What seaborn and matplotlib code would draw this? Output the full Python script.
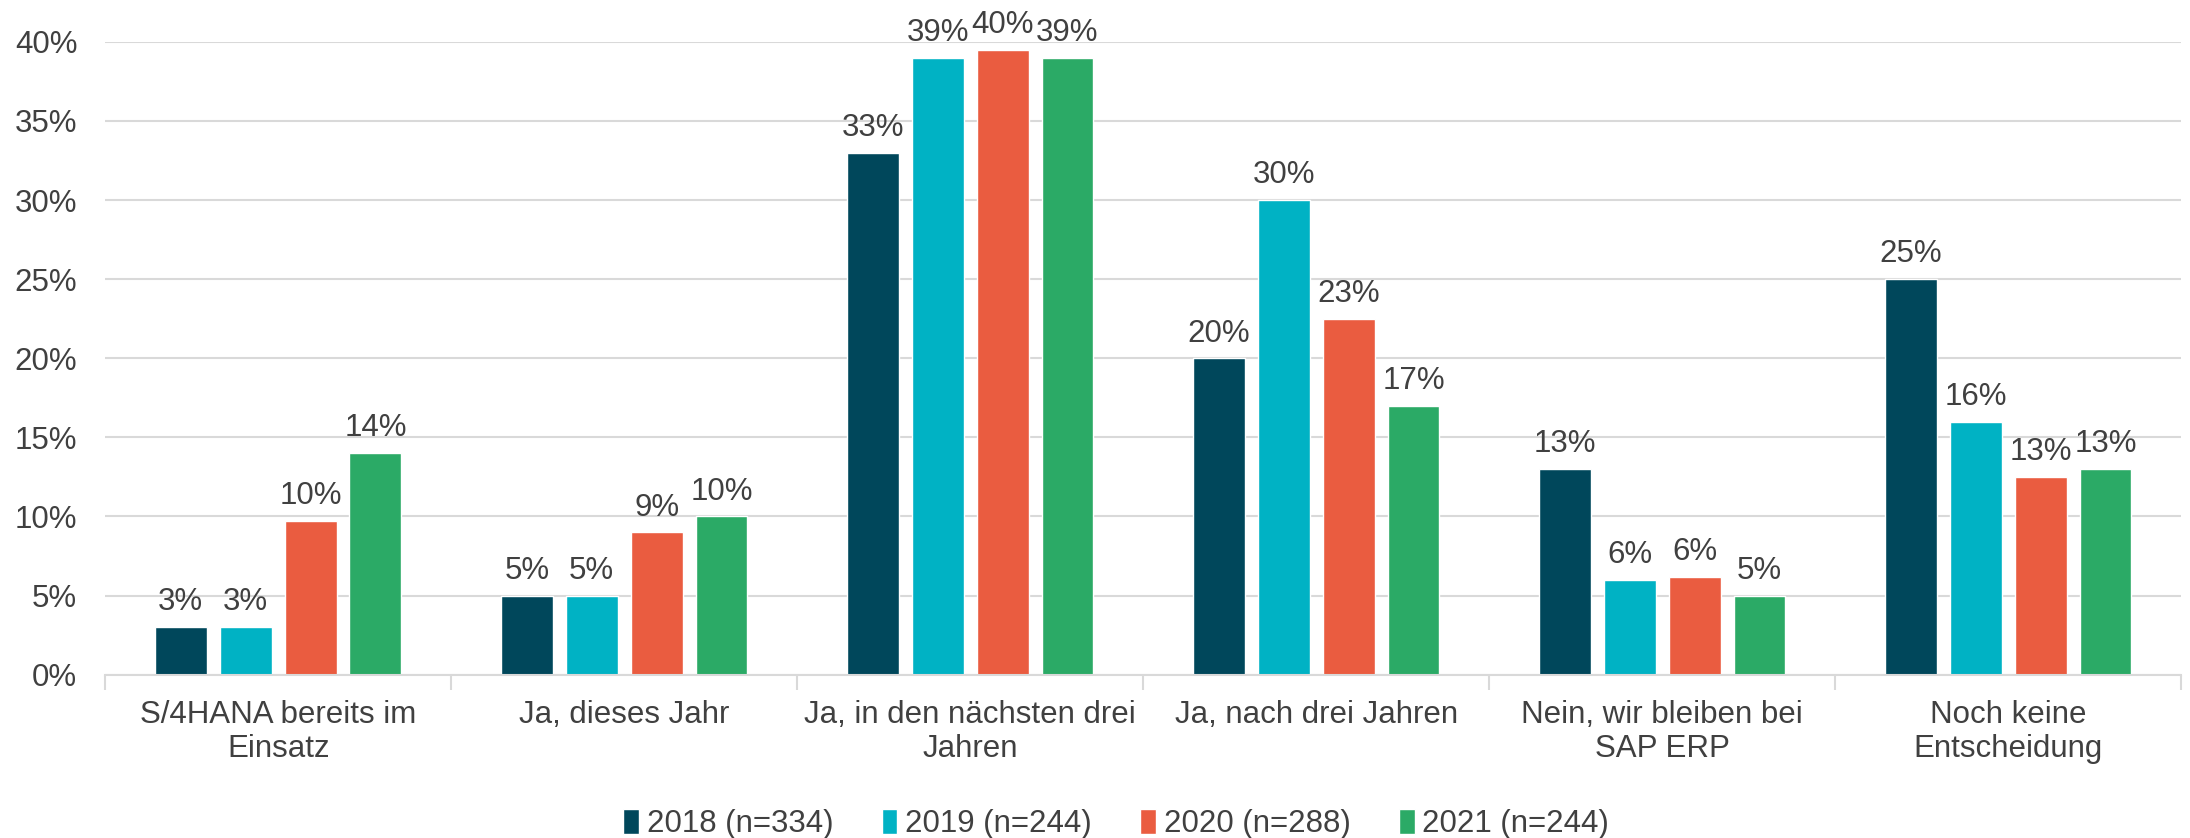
#!/usr/bin/env python3
# coding=utf-8
from matplotlib import pyplot as plt
from matplotlib.ticker import FixedLocator, PercentFormatter
import pandas as pd
import seaborn as sns

categories = [
    "S/4HANA bereits im\nEinsatz",
    "Ja, dieses Jahr",
    "Ja, in den nächsten drei\nJahren",
    "Ja, nach drei Jahren",
    "Nein, wir bleiben bei\nSAP ERP",
    "Noch keine\nEntscheidung",
]
series = ["2018 (n=334)", "2019 (n=244)", "2020 (n=288)", "2021 (n=244)"]
values_2018 = [3, 5, 33, 20, 13, 25]
values_2019 = [3, 5, 39, 30, 6, 16]
values_2020 = [9.7, 9, 39.5, 22.5, 6.2, 12.5]
values_2021 = [14, 10, 39, 17, 5, 13]
colors = ["#00475B", "#00B2C4", "#EA5C40", "#2BAA66"]

TEXT = "#404040"
FS = 22.5


def build_df():
    """
    Long-form table for seaborn
    """
    rows = []
    for name, vals in zip(series, [values_2018, values_2019, values_2020, values_2021]):
        for cat, v in zip(categories, vals):
            rows.append({"Kategorie": cat, "Jahr": name, "Anteil": v})
    return pd.DataFrame(rows)


def plot(df: pd.DataFrame, fig_location: str = None):
    sns.set_style("white")
    plt.rcParams["font.family"] = ["Liberation Sans", "DejaVu Sans"]

    fig = plt.figure(figsize=(21.9, 8.38), dpi=100)
    ax = fig.add_axes([0.048, 0.195, 0.948, 0.755])

    sns.barplot(data=df, x="Kategorie", y="Anteil", hue="Jahr",
                palette=colors, width=0.75, gap=0.2, ax=ax,
                saturation=1, legend=True)

    ax.set_ylim(0, 40)
    ax.set_xlim(-0.5, len(categories) - 0.5)
    ax.yaxis.set_major_locator(FixedLocator(range(0, 41, 5)))
    ax.yaxis.set_major_formatter(PercentFormatter(decimals=0))
    ax.grid(axis="y", color="#D9D9D9", linewidth=1.5)
    ax.set_axisbelow(True)
    ax.set(xlabel="", ylabel="")

    for s in ["top", "right", "left"]:
        ax.spines[s].set_visible(False)
    ax.spines["bottom"].set_color("#D9D9D9")
    ax.spines["bottom"].set_linewidth(1.5)

    ax.tick_params(axis="y", length=0, labelsize=FS, labelcolor=TEXT, pad=20)
    ax.tick_params(axis="x", which="major", length=0, labelsize=FS,
                   labelcolor=TEXT, pad=18)
    for t in ax.get_xticklabels():
        t.set_linespacing(1.2)
    ax.set_xticks([i - 0.5 for i in range(len(categories) + 1)], minor=True)
    ax.tick_params(axis="x", which="minor", bottom=True, length=11, width=1.5,
                   color="#D9D9D9", direction="out")

    for c in ax.containers:
        labels = [f"{int(b.get_height() + 0.5)}%" for b in c]
        ax.bar_label(c, labels=labels, padding=7, fontsize=FS, color=TEXT)

    ax.legend(loc="lower center", bbox_to_anchor=(0.487, -0.305), ncol=4,
              frameon=False, fontsize=FS, labelcolor=TEXT, handlelength=0.5,
              handleheight=0.85, handletextpad=0.25, columnspacing=1.55)

    if fig_location:
        plt.savefig(fig_location, dpi=100)


if __name__ == "__main__":
    plot(build_df(), "out.png")
